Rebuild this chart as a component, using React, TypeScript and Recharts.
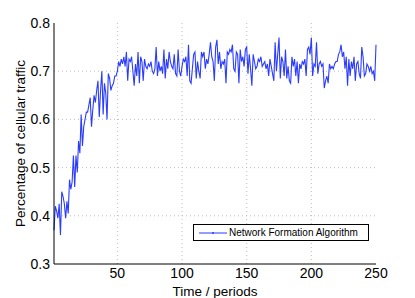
import { LineChart, Line, XAxis, YAxis, CartesianGrid } from 'recharts';

// percentage of cellular traffic, one value per period (1..250)
const trafico = [
  0.37, 0.42, 0.41, 0.395, 0.425, 0.36, 0.45, 0.44, 0.425, 0.395,
  0.43, 0.405, 0.475, 0.455, 0.47, 0.525, 0.46, 0.525, 0.49, 0.555,
  0.53, 0.61, 0.545, 0.585, 0.6, 0.615, 0.615, 0.63, 0.645, 0.585,
  0.62, 0.65, 0.635, 0.66, 0.68, 0.605, 0.66, 0.7, 0.61, 0.675,
  0.655, 0.6, 0.695, 0.685, 0.66, 0.67, 0.675, 0.69, 0.69, 0.7,
  0.72, 0.71, 0.725, 0.715, 0.73, 0.71, 0.74, 0.68, 0.725, 0.72,
  0.73, 0.7, 0.67, 0.715, 0.69, 0.74, 0.675, 0.73, 0.72, 0.68,
  0.725, 0.71, 0.705, 0.715, 0.71, 0.72, 0.7, 0.695, 0.705, 0.75,
  0.69, 0.72, 0.7, 0.71, 0.695, 0.745, 0.685, 0.725, 0.705, 0.74,
  0.72, 0.71, 0.705, 0.735, 0.695, 0.69, 0.745, 0.7, 0.69, 0.71,
  0.725, 0.72, 0.73, 0.69, 0.755, 0.68, 0.675, 0.705, 0.735, 0.74,
  0.685, 0.72, 0.7, 0.685, 0.74, 0.73, 0.74, 0.705, 0.725, 0.715,
  0.735, 0.76, 0.73, 0.72, 0.68, 0.75, 0.765, 0.715, 0.74, 0.705,
  0.72, 0.715, 0.725, 0.675, 0.74, 0.735, 0.745, 0.74, 0.755, 0.705,
  0.7, 0.74, 0.735, 0.675, 0.745, 0.72, 0.73, 0.71, 0.745, 0.75,
  0.695, 0.735, 0.705, 0.67, 0.735, 0.72, 0.705, 0.71, 0.725, 0.72,
  0.73, 0.71, 0.715, 0.72, 0.705, 0.715, 0.69, 0.725, 0.71, 0.695,
  0.68, 0.76, 0.7, 0.735, 0.77, 0.685, 0.73, 0.72, 0.69, 0.745,
  0.685, 0.71, 0.68, 0.675, 0.73, 0.71, 0.725, 0.69, 0.72, 0.675,
  0.715, 0.705, 0.72, 0.715, 0.725, 0.69, 0.745, 0.75, 0.735, 0.77,
  0.69, 0.715, 0.71, 0.76, 0.695, 0.715, 0.72, 0.71, 0.715, 0.665,
  0.68, 0.69, 0.675, 0.715, 0.705, 0.71, 0.705, 0.715, 0.72, 0.72,
  0.735, 0.74, 0.755, 0.73, 0.74, 0.705, 0.73, 0.67, 0.725, 0.69,
  0.72, 0.705, 0.73, 0.68, 0.715, 0.72, 0.695, 0.685, 0.75, 0.73,
  0.69, 0.695, 0.715, 0.71, 0.7, 0.71, 0.695, 0.7, 0.68, 0.755,
];

const ticksX = [50, 100, 150, 200, 250];
const ticksY = [0.3, 0.4, 0.5, 0.6, 0.7, 0.8];

const datos = trafico.map((v, i) => ({ periodo: i + 1, valor: v }));

const FUENTE = '"Liberation Sans", Arial, Helvetica, sans-serif';
const AZUL = '#2b3cff';

// Leyenda estilo MATLAB (caja blanca con borde negro)
const LeyendaMatlab = () => (
  <div
    style={{
      position: 'absolute',
      left: 193,
      top: 224,
      width: 174,
      height: 15,
      border: '1px solid #000',
      background: '#fff',
      display: 'flex',
      alignItems: 'center',
      fontFamily: FUENTE,
      fontSize: 10,
      color: '#000',
    }}
  >
    <svg width={34} height={6} style={{ marginLeft: 4 }}>
      <line x1={1} y1={3} x2={29} y2={3} stroke={AZUL} strokeWidth={1} />
      <circle cx={15} cy={3} r={1} fill={AZUL} />
    </svg>
    <span style={{ marginLeft: -3, whiteSpace: 'nowrap' }}>Network Formation Algorithm</span>
  </div>
);

const EtiquetaY = ({ viewBox }: any) => {
  const x = viewBox.x + 20;
  const y = viewBox.y + viewBox.height / 2;
  return (
    <text
      x={x}
      y={y}
      transform={`rotate(-90, ${x}, ${y})`}
      textAnchor="middle"
      dominantBaseline="central"
      fontFamily={FUENTE}
      fontSize={13.5}
      fill="#000"
    >
      Percentage of cellular traffic
    </text>
  );
};

export default function App() {
  return (
    <div style={{ position: 'absolute', left: 0, top: 0, width: 415, height: 298, background: '#fff' }}>
      <LineChart
        width={415}
        height={298}
        data={datos}
        margin={{ top: 23, right: 39, bottom: 0, left: 0 }}
      >
        <CartesianGrid
          stroke="#bdbdbd"
          strokeDasharray="1 3"
          horizontalValues={[0.4, 0.5, 0.6, 0.7]}
          verticalValues={[50, 100, 150, 200]}
        />
        <XAxis
          dataKey="periodo"
          type="number"
          domain={[1, 250]}
          ticks={ticksX}
          height={34}
          tickLine={false}
          tickSize={3}
          tickMargin={1}
          axisLine={{ stroke: '#000' }}
          tick={{ fontFamily: FUENTE, fontSize: 14, fill: '#000' }}
          label={{
            value: 'Time / periods',
            position: 'insideBottom',
            offset: 2,
            style: { fontFamily: FUENTE, fontSize: 13.5, fill: '#000' },
          }}
        />
        <XAxis
          xAxisId="arriba"
          orientation="top"
          dataKey="periodo"
          type="number"
          domain={[1, 250]}
          height={0}
          tick={false}
          tickLine={false}
          axisLine={{ stroke: '#000' }}
        />
        <YAxis
          type="number"
          domain={[0.3, 0.8]}
          ticks={ticksY}
          width={54}
          tickLine={false}
          tickSize={2}
          tickMargin={2}
          axisLine={{ stroke: '#000' }}
          tick={{ fontFamily: FUENTE, fontSize: 14, fill: '#000' }}
          tickFormatter={(v: number) => v.toFixed(1)}
          label={<EtiquetaY />}
        />
        <YAxis
          yAxisId="derecha"
          orientation="right"
          type="number"
          domain={[0.3, 0.8]}
          width={0}
          tick={false}
          tickLine={false}
          axisLine={{ stroke: '#000' }}
        />
        <Line
          type="linear"
          dataKey="valor"
          stroke={AZUL}
          strokeWidth={1.1}
          dot={false}
          isAnimationActive={false}
        />
      </LineChart>
      <LeyendaMatlab />
    </div>
  );
}
